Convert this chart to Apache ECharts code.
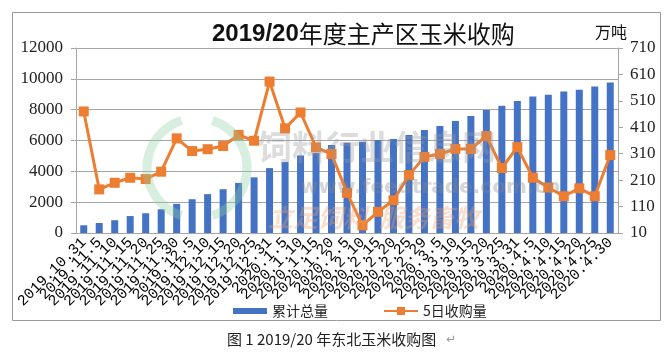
<!DOCTYPE html>
<html>
<head>
<meta charset="utf-8">
<script src="https://cdn.jsdelivr.net/npm/echarts@6/dist/echarts.min.js"></script>
<style>
  html, body { margin: 0; padding: 0; background: #fff; }
  #chart { width: 672px; height: 354px; }
</style>
</head>
<body>
<div id="chart"></div>
<script>
// datas de 5 em 5 dias
const datas = [
  '2019.10.31', '2019.11.5', '2019.11.10', '2019.11.15', '2019.11.20', '2019.11.25', '2019.11.30',
  '2019.12.5', '2019.12.10', '2019.12.15', '2019.12.20', '2019.12.25', '2019.12.31',
  '2020.1.5', '2020.1.10', '2020.1.15', '2020.1.20',
  '2020.2.5', '2020.2.10', '2020.2.15', '2020.2.20', '2020.2.25', '2020.2.29',
  '2020.3.5', '2020.3.10', '2020.3.15', '2020.3.20', '2020.3.25', '2020.3.31',
  '2020.4.5', '2020.4.10', '2020.4.15', '2020.4.20', '2020.4.25', '2020.4.30'
];

// 累计总量 (eixo esquerdo)
const totalAcumulado = [
  500, 650, 830, 1100, 1280, 1540, 1890, 2190, 2520, 2840, 3250, 3610, 4210,
  4610, 5030, 5190, 5710,
  5860, 5920, 6030, 6100, 6360, 6680,
  6940, 7270, 7590, 7980, 8250, 8570,
  8850, 8960, 9180, 9290, 9500, 9760
];

// 5日收购量 (eixo direito, 万吨)
const compra5Dias = [
  470, 175, 200, 219, 214, 242, 368, 320, 327, 339, 381, 359, 583,
  406, 466, 334, 309,
  162, 39, 90, 134, 229, 298,
  309, 328, 328, 377, 256, 335,
  219, 182, 149, 179, 149, 305
];

const ticksDireita = [10, 110, 210, 310, 410, 510, 610, 710];

const chart = echarts.init(document.getElementById('chart'));

const cinza = '#a6a6a6';

const option = {
  animation: false,
  title: {
    text: '{a|2019/20}{b|年度主产区玉米收购}',
    left: 207,
    top: 17,
    textStyle: {
      rich: {
        a: { fontFamily: 'Liberation Sans', fontWeight: 'bold', fontSize: 24, color: '#111' },
        b: { fontFamily: 'Noto Sans CJK SC', fontWeight: 'normal', fontSize: 24, color: '#111' }
      }
    }
  },
  legend: {
    left: 228,
    top: 299,
    itemWidth: 34,
    itemHeight: 10,
    itemGap: 55,
    textStyle: { fontFamily: 'Noto Sans CJK SC', fontSize: 14, color: '#222' },
    data: [
      { name: '累计总量', icon: 'path://M0,0H34V6H0Z' },
      { name: '5日收购量' }
    ]
  },
  grid: { left: 76, right: 54, top: 48, bottom: 121 },
  xAxis: {
    type: 'category',
    data: datas,
    axisLine: { lineStyle: { color: cinza } },
    axisTick: { length: 5, lineStyle: { color: cinza } },
    axisLabel: {
      interval: 0,
      rotate: 45,
      margin: 7,
      fontFamily: 'Liberation Mono',
      fontSize: 15,
      color: '#000'
    }
  },
  yAxis: [
    {
      type: 'value',
      min: 0,
      max: 12000,
      interval: 2000,
      axisLine: { show: true, lineStyle: { color: cinza } },
      axisTick: { show: true, length: 5, lineStyle: { color: cinza } },
      splitLine: { lineStyle: { color: cinza } },
      axisLabel: {
        margin: 13,
        fontFamily: 'Liberation Serif',
        fontSize: 17,
        color: '#222',
        formatter: v => String(v)
      }
    },
    {
      type: 'value',
      position: 'right',
      min: 10,
      max: 710,
      name: '万吨',
      nameLocation: 'end',
      nameGap: -3,
      nameTextStyle: { fontFamily: 'Noto Sans CJK SC', fontSize: 16, color: '#111', padding: [0, 14, 0, 0] },
      axisLine: { show: true, lineStyle: { color: cinza } },
      axisTick: { show: true, length: 5, customValues: ticksDireita, lineStyle: { color: cinza } },
      splitLine: { show: false },
      axisLabel: {
        margin: 12,
        customValues: ticksDireita,
        fontFamily: 'Liberation Serif',
        fontSize: 17,
        color: '#222',
        formatter: v => String(v)
      }
    }
  ],
  series: [
    {
      name: '累计总量',
      type: 'bar',
      yAxisIndex: 0,
      barWidth: 7,
      itemStyle: { color: '#4472C4' },
      data: totalAcumulado
    },
    {
      name: '5日收购量',
      type: 'line',
      yAxisIndex: 1,
      symbol: 'rect',
      symbolSize: 10,
      itemStyle: { color: '#ED7D31' },
      lineStyle: { width: 3, color: '#ED7D31' },
      z: 5,
      data: compra5Dias
    }
  ],
  graphic: [
    // moldura do gráfico
    {
      type: 'rect',
      shape: { x: 12.5, y: 12.5, width: 648, height: 308 },
      style: { fill: 'none', stroke: '#9a9a9a', lineWidth: 1 },
      silent: true
    },
    // marca d'água
    {
      type: 'arc',
      shape: { cx: 197, cy: 168, r: 50, startAngle: Math.PI * 0.6, endAngle: Math.PI * 1.4 },
      style: { stroke: '#8fcfa4', lineWidth: 9, fill: 'none', opacity: 0.35 },
      z: 50, silent: true
    },
    {
      type: 'arc',
      shape: { cx: 197, cy: 168, r: 50, startAngle: -Math.PI * 0.4, endAngle: Math.PI * 0.4 },
      style: { stroke: '#8fcfa4', lineWidth: 9, fill: 'none', opacity: 0.35 },
      z: 50, silent: true
    },
    {
      type: 'text',
      left: 258, top: 130,
      style: { text: '饲料行业信息网', font: 'bold 34px "Noto Sans CJK SC"', fill: '#9a9a9a', opacity: 0.35 },
      z: 50, silent: true
    },
    {
      type: 'text',
      left: 300, top: 178,
      style: { text: 'www.feedtrade.com.cn', font: 'bold 20px "DejaVu Sans"', fill: '#8a8a8a', opacity: 0.35 },
      z: 50, silent: true
    },
    {
      type: 'text',
      left: 268, top: 205,
      style: { text: '立足饲料  服务畜牧', font: 'italic bold 25px "Noto Sans CJK SC"', fill: '#f0a06a', opacity: 0.35 },
      z: 50, silent: true
    },
    // legenda da figura
    {
      type: 'text',
      left: 227, top: 332,
      style: { text: '图 1 2019/20 年东北玉米收购图', font: '15px "Noto Sans CJK SC"', fill: '#222' },
      silent: true
    },
    {
      type: 'text',
      left: 446, top: 334,
      style: { text: '↵', font: '12px "DejaVu Sans"', fill: '#999' },
      silent: true
    }
  ]
};

chart.setOption(option);
</script>
</body>
</html>
